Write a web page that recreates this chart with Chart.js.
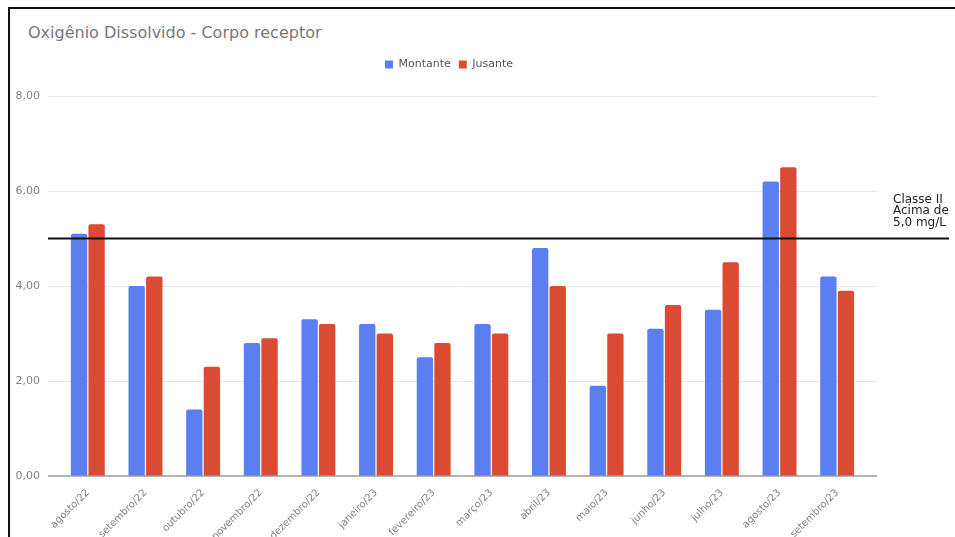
<!DOCTYPE html>
<html lang="pt-BR">
<head>
<meta charset="utf-8">
<title>Oxigênio Dissolvido - Corpo receptor</title>
<script src="https://cdn.jsdelivr.net/npm/chart.js@4.4.1/dist/chart.umd.min.js"></script>
<style>
  html, body { margin: 0; padding: 0; background: #fff; }
  .page { position: relative; width: 955px; height: 537px; overflow: hidden; }
  .frame { position: absolute; left: 8px; top: 7px; right: -4px; bottom: -4px;
           border-left: 2px solid #111; border-top: 2px solid #111; }
  .title { position: absolute; left: 28px; top: 23px; font: 16px 'DejaVu Sans', sans-serif; color: #777; }
  .chart-box { position: absolute; left: 0; top: 0; width: 955px; height: 537px; }
</style>
</head>
<body>
<div class="page">
  <div class="frame"></div>
  <div class="title">Oxigênio Dissolvido - Corpo receptor</div>
  <div class="chart-box"><canvas id="chart"></canvas></div>
</div>
<script>
const categories = ['agosto/22', 'setembro/22', 'outubro/22', 'novembro/22', 'dezembro/22', 'janeiro/23',
  'fevereiro/23', 'março/23', 'abril/23', 'maio/23', 'junho/23', 'julho/23', 'agosto/23', 'setembro/23'];
const montante = [5.1, 4.0, 1.4, 2.8, 3.3, 3.2, 2.5, 3.2, 4.8, 1.9, 3.1, 3.5, 6.2, 4.2];
const jusante = [5.3, 4.2, 2.3, 2.9, 3.2, 3.0, 2.8, 3.0, 4.0, 3.0, 3.6, 4.5, 6.5, 3.9];
const yTicks = [0, 2, 4, 6, 8];
const limite = 5;
const limiteTexto = ['Classe II', 'Acima de', '5,0 mg/L'];

const FONT = "'DejaVu Sans', sans-serif";

// grid lines run a little past the plot on both sides, like the original
const extrasPlugin = {
  id: 'extras',
  beforeDatasetsDraw(chart) {
    const { ctx, chartArea, scales: { y } } = chart;
    ctx.save();
    ctx.strokeStyle = '#e8e8e8';
    ctx.lineWidth = 1;
    yTicks.forEach((v) => {
      if (v === 0) return;
      const py = Math.round(y.getPixelForValue(v)) + 0.5;
      ctx.beginPath();
      ctx.moveTo(chartArea.left - 11, py);
      ctx.lineTo(chartArea.right + 11, py);
      ctx.stroke();
    });
    ctx.restore();
  },
  afterDatasetsDraw(chart) {
    const { ctx, chartArea, scales: { y } } = chart;
    ctx.save();
    // base line
    const p0 = y.getPixelForValue(0);
    ctx.strokeStyle = '#9a9a9a';
    ctx.lineWidth = 1.5;
    ctx.beginPath();
    ctx.moveTo(chartArea.left - 11, p0);
    ctx.lineTo(chartArea.right + 11, p0);
    ctx.stroke();

    // limit line at 5,0 mg/L
    const pl = y.getPixelForValue(limite);
    ctx.strokeStyle = '#111';
    ctx.lineWidth = 2;
    ctx.beginPath();
    ctx.moveTo(chartArea.left - 11, pl);
    ctx.lineTo(chart.width - 6, pl);
    ctx.stroke();

    ctx.fillStyle = '#222';
    ctx.font = '12px ' + FONT;
    ctx.textAlign = 'left';
    ctx.textBaseline = 'middle';
    limiteTexto.forEach((t, i) => {
      ctx.fillText(t, 893, pl - 39 + i * 11.5);
    });
    ctx.restore();
  },
};

// extra room under the legend, and centre it a bit more to the right
const legendGap = {
  id: 'legendGap',
  beforeInit(chart) {
    const fit = chart.legend.fit;
    chart.legend.fit = function () {
      fit.bind(chart.legend)();
      this.height += 16;
    };
  },
  beforeDraw(chart) {
    chart.legend.left = 32;
    chart.legend.right = chart.width - 89;
  },
};

new Chart(document.getElementById('chart'), {
  type: 'bar',
  data: {
    labels: categories,
    datasets: [
      {
        label: 'Montante',
        data: montante,
        backgroundColor: '#5b7ff0',
        borderRadius: { topLeft: 2, topRight: 2 },
        borderSkipped: false,
        categoryPercentage: 0.61,
        barPercentage: 0.93,
      },
      {
        label: 'Jusante',
        data: jusante,
        backgroundColor: '#db4a33',
        borderRadius: { topLeft: 2, topRight: 2 },
        borderSkipped: false,
        categoryPercentage: 0.61,
        barPercentage: 0.93,
      },
    ],
  },
  options: {
    responsive: true,
    maintainAspectRatio: false,
    animation: false,
    layout: { padding: { top: 51, left: 16, right: 89, bottom: 0 } },
    plugins: {
      legend: {
        position: 'top',
        align: 'center',
        labels: {
          boxWidth: 8,
          boxHeight: 8,
          padding: 8,
          color: '#555',
          font: { family: FONT, size: 11 },
        },
      },
      tooltip: { enabled: false },
    },
    scales: {
      x: {
        grid: { display: false },
        border: { display: false },
        afterFit: (s) => { s.paddingLeft = 0; s.paddingRight = 0; s.height = 61; },
        ticks: {
          color: '#808080',
          font: { family: FONT, size: 10 },
          maxRotation: 45,
          minRotation: 45,
          padding: 3,
          autoSkip: false,
        },
      },
      y: {
        min: 0,
        max: 8,
        grid: { display: false, drawTicks: false },
        border: { display: false },
        afterBuildTicks: (axis) => { axis.ticks = yTicks.map((v) => ({ value: v })); },
        afterFit: (s) => { s.width = 43; },
        ticks: {
          color: '#808080',
          padding: 19,
          font: { family: FONT, size: 11 },
          callback: (v) => Number(v).toFixed(2).replace('.', ','),
        },
      },
    },
  },
  plugins: [extrasPlugin, legendGap],
});
</script>
</body>
</html>
